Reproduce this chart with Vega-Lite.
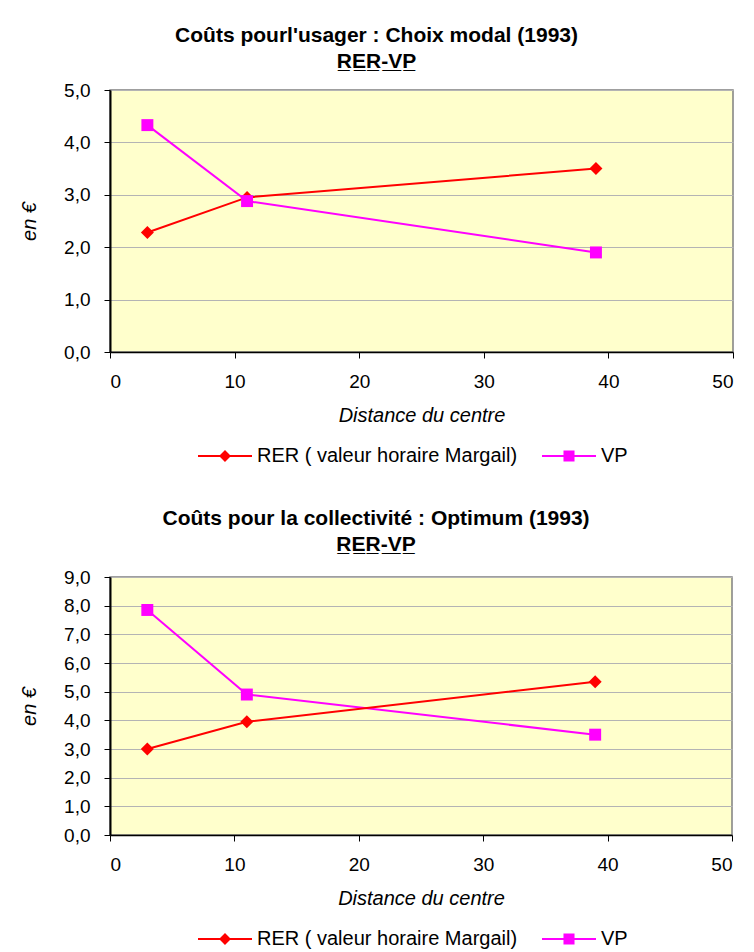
{
  "$schema": "https://vega.github.io/schema/vega-lite/v6.json",
  "padding": {"left": 18, "top": 24, "right": 5, "bottom": 5},
  "background": "white",
  "spacing": 40,
  "data": {"values": [
    {"panel": "usager", "series": "RER ( valeur horaire Margail)", "distance": 3, "cost": 2.28},
    {"panel": "usager", "series": "RER ( valeur horaire Margail)", "distance": 11, "cost": 2.95},
    {"panel": "usager", "series": "RER ( valeur horaire Margail)", "distance": 39, "cost": 3.5},
    {"panel": "usager", "series": "VP", "distance": 3, "cost": 4.33},
    {"panel": "usager", "series": "VP", "distance": 11, "cost": 2.88},
    {"panel": "usager", "series": "VP", "distance": 39, "cost": 1.9},
    {"panel": "collectivite", "series": "RER ( valeur horaire Margail)", "distance": 3, "cost": 3.0},
    {"panel": "collectivite", "series": "RER ( valeur horaire Margail)", "distance": 11, "cost": 3.95},
    {"panel": "collectivite", "series": "RER ( valeur horaire Margail)", "distance": 39, "cost": 5.35},
    {"panel": "collectivite", "series": "VP", "distance": 3, "cost": 7.85},
    {"panel": "collectivite", "series": "VP", "distance": 11, "cost": 4.9},
    {"panel": "collectivite", "series": "VP", "distance": 39, "cost": 3.5}
  ]},
  "config": {
    "font": "Liberation Sans",
    "view": {"fill": "#FFFFCC", "stroke": "#808080", "strokeWidth": 1.5},
    "axis": {"labelFont": "Liberation Sans", "labelFontSize": 19, "labelColor": "black", "titleFont": "Liberation Sans", "titleFontSize": 20, "titleFontStyle": "italic", "titleFontWeight": "normal", "titleColor": "black", "domainColor": "black", "tickColor": "black", "gridColor": "#B4B4B4", "tickSize": 6},
    "title": {"font": "Liberation Sans", "fontSize": 21, "fontWeight": "bold", "color": "black", "subtitleFont": "Liberation Sans", "subtitleFontSize": 21, "subtitleFontWeight": "bold", "subtitleColor": "black", "subtitlePadding": 5, "anchor": "middle", "frame": "bounds", "offset": 9},
    "legend": {"labelFont": "Liberation Sans", "labelFontSize": 20, "labelColor": "black", "labelLimit": 400}
  },
  "resolve": {"scale": {"color": "independent", "shape": "independent", "y": "independent"}, "legend": {"color": "independent", "shape": "independent"}},
  "vconcat": [
    {
      "width": 623, "height": 262,
      "title": {"text": "Coûts pourl'usager : Choix modal (1993)", "subtitle": "R̲E̲R̲-̲V̲P̲"},
      "transform": [{"filter": "datum.panel === 'usager'"}],
      "encoding": {
        "x": {"field": "distance", "type": "quantitative", "scale": {"domain": [0, 50], "nice": false}, "axis": {"title": "Distance du centre", "values": [0, 10, 20, 30, 40, 50], "grid": false, "labelPadding": 14, "titlePadding": 14, "domainWidth": 1.5}},
        "y": {"field": "cost", "type": "quantitative", "scale": {"domain": [0, 5], "nice": false}, "axis": {"title": "en €", "values": [0, 1, 2, 3, 4, 5], "labelExpr": "replace(format(datum.value, '.1f'), '.', ',')", "labelPadding": 14, "titlePadding": 24, "domainWidth": 2, "grid": true}}
      },
      "layer": [
        {"transform": [{"filter": "datum.series === 'VP'"}],
         "mark": {"type": "line", "strokeWidth": 2, "color": "#FF00FF"}, "encoding": {}},
        {"transform": [{"filter": "datum.series !== 'VP'"}],
         "mark": {"type": "line", "strokeWidth": 2, "color": "#FF0000"}, "encoding": {}},
        {"transform": [{"filter": "datum.series !== 'VP'"}],
         "mark": {"type": "point", "filled": true, "opacity": 1, "size": 169, "shape": "diamond", "color": "#FF0000"}},
        {"transform": [{"filter": "datum.series === 'VP'"}],
         "mark": {"type": "point", "filled": true, "opacity": 1, "size": 169, "shape": "M-0.92,-0.92H0.92V0.92H-0.92Z", "color": "#FF00FF"}},
        {"mark": {"type": "point", "filled": true, "opacity": 0, "size": 144},
         "encoding": {
           "color": {"field": "series", "type": "nominal", "scale": {"domain": ["RER ( valeur horaire Margail)", "VP"], "range": ["#FF0000", "#FF00FF"]},
             "legend": {"orient": "none", "legendX": 84, "legendY": 356, "direction": "horizontal", "title": null, "symbolSize": 144, "symbolOpacity": 1, "symbolStrokeWidth": 0, "labelOffset": 43, "columnPadding": 20}},
           "shape": {"field": "series", "type": "nominal", "scale": {"domain": ["RER ( valeur horaire Margail)", "VP"], "range": ["M-1,-0.17H2.67L3.5,-1L4.33,-0.17H8V0.17H4.33L3.5,1L2.67,0.17H-1Z", "M-1,-0.15H2.58V-0.92H4.42V-0.15H8V0.15H4.42V0.92H2.58V0.15H-1Z"]},
             "legend": {"orient": "none", "legendX": 84, "legendY": 356, "direction": "horizontal", "title": null, "symbolSize": 144, "symbolOpacity": 1, "symbolStrokeWidth": 0, "labelOffset": 43, "columnPadding": 20}}
         }}
      ]
    },
    {
      "width": 622, "height": 258,
      "title": {"text": "Coûts pour la collectivité : Optimum (1993)", "subtitle": "R̲E̲R̲-̲V̲P̲", "offset": 13},
      "transform": [{"filter": "datum.panel === 'collectivite'"}],
      "encoding": {
        "x": {"field": "distance", "type": "quantitative", "scale": {"domain": [0, 50], "nice": false}, "axis": {"title": "Distance du centre", "values": [0, 10, 20, 30, 40, 50], "grid": false, "labelPadding": 14, "titlePadding": 14, "domainWidth": 1.5}},
        "y": {"field": "cost", "type": "quantitative", "scale": {"domain": [0, 9], "nice": false}, "axis": {"title": "en €", "values": [0, 1, 2, 3, 4, 5, 6, 7, 8, 9], "labelExpr": "replace(format(datum.value, '.1f'), '.', ',')", "labelPadding": 14, "titlePadding": 24, "domainWidth": 2, "grid": true}}
      },
      "layer": [
        {"transform": [{"filter": "datum.series === 'VP'"}],
         "mark": {"type": "line", "strokeWidth": 2, "color": "#FF00FF"}, "encoding": {}},
        {"transform": [{"filter": "datum.series !== 'VP'"}],
         "mark": {"type": "line", "strokeWidth": 2, "color": "#FF0000"}, "encoding": {}},
        {"transform": [{"filter": "datum.series !== 'VP'"}],
         "mark": {"type": "point", "filled": true, "opacity": 1, "size": 169, "shape": "diamond", "color": "#FF0000"}},
        {"transform": [{"filter": "datum.series === 'VP'"}],
         "mark": {"type": "point", "filled": true, "opacity": 1, "size": 169, "shape": "M-0.92,-0.92H0.92V0.92H-0.92Z", "color": "#FF00FF"}},
        {"mark": {"type": "point", "filled": true, "opacity": 0, "size": 144},
         "encoding": {
           "color": {"field": "series", "type": "nominal", "scale": {"domain": ["RER ( valeur horaire Margail)", "VP"], "range": ["#FF0000", "#FF00FF"]},
             "legend": {"orient": "none", "legendX": 84, "legendY": 352, "direction": "horizontal", "title": null, "symbolSize": 144, "symbolOpacity": 1, "symbolStrokeWidth": 0, "labelOffset": 43, "columnPadding": 20}},
           "shape": {"field": "series", "type": "nominal", "scale": {"domain": ["RER ( valeur horaire Margail)", "VP"], "range": ["M-1,-0.17H2.67L3.5,-1L4.33,-0.17H8V0.17H4.33L3.5,1L2.67,0.17H-1Z", "M-1,-0.15H2.58V-0.92H4.42V-0.15H8V0.15H4.42V0.92H2.58V0.15H-1Z"]},
             "legend": {"orient": "none", "legendX": 84, "legendY": 352, "direction": "horizontal", "title": null, "symbolSize": 144, "symbolOpacity": 1, "symbolStrokeWidth": 0, "labelOffset": 43, "columnPadding": 20}}
         }}
      ]
    }
  ]
}
